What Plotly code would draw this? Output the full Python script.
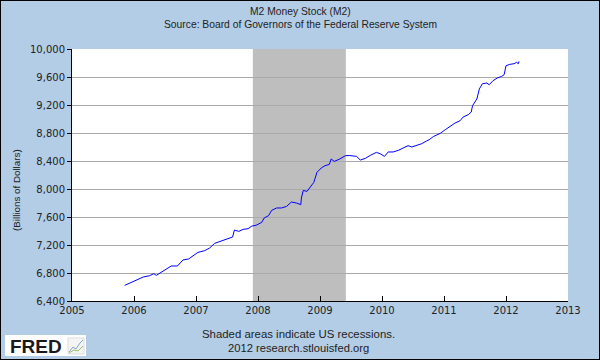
import plotly.graph_objects as go

# ---- data ----
years = [2005.85, 2005.96, 2006.06, 2006.15, 2006.25, 2006.32, 2006.36, 2006.44, 2006.52, 2006.60,
         2006.70, 2006.79, 2006.88, 2006.95, 2007.03, 2007.14, 2007.22, 2007.30, 2007.41, 2007.52,
         2007.59, 2007.62, 2007.69, 2007.76, 2007.84, 2007.90, 2007.97, 2008.06, 2008.10, 2008.17,
         2008.22, 2008.30, 2008.38, 2008.46, 2008.54, 2008.62, 2008.69, 2008.70, 2008.73, 2008.79,
         2008.84, 2008.90, 2008.95, 2009.02, 2009.08, 2009.15, 2009.18, 2009.23, 2009.32, 2009.41,
         2009.48, 2009.55, 2009.59, 2009.65, 2009.73, 2009.81, 2009.91, 2009.97, 2010.04, 2010.10,
         2010.18, 2010.26, 2010.34, 2010.42, 2010.48, 2010.56, 2010.64, 2010.72, 2010.76, 2010.83,
         2010.94, 2011.02, 2011.10, 2011.18, 2011.26, 2011.31, 2011.39, 2011.44, 2011.46, 2011.49,
         2011.53, 2011.57, 2011.62, 2011.69, 2011.73, 2011.79, 2011.86, 2011.93, 2011.97, 2012.00,
         2012.06, 2012.13, 2012.17, 2012.20, 2012.21]
m2 = [6623, 6666, 6704, 6743, 6761, 6790, 6766, 6809, 6861, 6900,
      6900, 6986, 7000, 7047, 7094, 7119, 7157, 7223, 7261, 7290,
      7314, 7414, 7394, 7423, 7433, 7470, 7482, 7523, 7586, 7619,
      7694, 7729, 7729, 7751, 7814, 7800, 7776, 7871, 7980, 7966,
      8023, 8094, 8237, 8300, 8333, 8351, 8429, 8394, 8429, 8476,
      8478, 8470, 8466, 8414, 8437, 8480, 8523, 8504, 8466, 8529,
      8529, 8551, 8586, 8619, 8600, 8623, 8647, 8686, 8704, 8750,
      8795, 8847, 8894, 8943, 8976, 9029, 9061, 9100, 9190, 9229,
      9286, 9429, 9504, 9514, 9490, 9547, 9586, 9609, 9633, 9761,
      9780, 9790, 9809, 9790, 9823]
recession_start = [2007.917]
recession_end = [2009.417]
x_ticks = [2005, 2006, 2007, 2008, 2009, 2010, 2011, 2012, 2013]
y_ticks = [6400, 6800, 7200, 7600, 8000, 8400, 8800, 9200, 9600, 10000]

W, H = 600, 360
L, R, T, B = 72, 32, 49, 59
PW, PH = W - L - R, H - T - B


def px(x):
    return (x - L) / PW


def py(y):
    return (H - B - y) / PH


BG = "#B3CDE6"
TXT = "#222222"
FONT = "DejaVu Sans"
SANS = "Liberation Sans"

fig = go.Figure()
fig.add_trace(go.Scatter(x=years, y=m2, mode="lines",
                         line=dict(color="#0000FF", width=1), hoverinfo="skip"))

shapes = []
for s, e in zip(recession_start, recession_end):
    shapes.append(dict(type="rect", xref="x", yref="paper", x0=s, x1=e, y0=0, y1=1,
                       fillcolor="#BEBEBE", line=dict(width=0), layer="below"))
# outer border
shapes.append(dict(type="rect", xref="paper", yref="paper",
                   x0=px(0), x1=px(W), y0=py(H), y1=py(0),
                   line=dict(color="black", width=2), fillcolor="rgba(0,0,0,0)"))
# FRED logo box
shapes.append(dict(type="rect", xref="paper", yref="paper",
                   x0=px(5), x1=px(86), y0=py(356), y1=py(335),
                   line=dict(width=0), fillcolor="white"))
shapes.append(dict(type="rect", xref="paper", yref="paper",
                   x0=px(68), x1=px(84), y0=py(354), y1=py(338),
                   line=dict(color="#DDDDDD", width=1), fillcolor="#F4F4F4"))
shapes.append(dict(type="path", xref="paper", yref="paper",
                   path="M {} {} L {} {} L {} {} L {} {} L {} {}".format(
                       px(69), py(352), px(73), py(347), px(76), py(349), px(80), py(343), px(83), py(340)),
                   line=dict(color="#7FA7D0", width=1)))
shapes.append(dict(type="path", xref="paper", yref="paper",
                   path="M {} {} L {} {} L {} {} L {} {}".format(
                       px(69), py(353), px(74), py(350), px(78), py(351), px(83), py(346)),
                   line=dict(color="#9DBF6A", width=1)))

ann = [
    dict(text="M2 Money Stock (M2)", x=px(300), y=py(11), size=10.3),
    dict(text="Source: Board of Governors of the Federal Reserve System", x=px(300), y=py(25), size=10.3),
    dict(text="Shaded areas indicate US recessions.", x=px(298), y=py(334), size=11.4),
    dict(text="2012 research.stlouisfed.org", x=px(298), y=py(348), size=11.2),
]
annotations = []
for a in ann:
    annotations.append(dict(text=a["text"], x=a["x"], y=a["y"], xref="paper", yref="paper",
                            xanchor="center", yanchor="middle", showarrow=False,
                            font=dict(family=SANS, size=a["size"], color=TXT)))
annotations.append(dict(text="(Billions of Dollars)", x=px(16), y=py(190), xref="paper", yref="paper",
                        xanchor="center", yanchor="middle", showarrow=False, textangle=-90,
                        font=dict(family=SANS, size=9.8, color=TXT)))
annotations.append(dict(text="<b>FRED</b>", x=px(8), y=py(346), xref="paper", yref="paper",
                        xanchor="left", yanchor="middle", showarrow=False,
                        font=dict(family=SANS, size=19, color="#1A1A1A")))

fig.update_layout(
    width=W, height=H,
    margin=dict(l=L, r=R, t=T, b=B, pad=0),
    paper_bgcolor=BG, plot_bgcolor="white",
    showlegend=False,
    font=dict(family=FONT, size=10, color=TXT),
    shapes=shapes, annotations=annotations,
    xaxis=dict(range=[2005, 2013], tickmode="array", tickvals=x_ticks,
               ticktext=[str(t) for t in x_ticks],
               showgrid=False, zeroline=False, showline=True, linecolor="black", linewidth=1,
               ticks="inside", ticklen=5, tickcolor="black", tickfont=dict(family=FONT, size=10, color=TXT)),
    yaxis=dict(range=[6400, 10000], tickmode="array", tickvals=y_ticks,
               ticktext=[f"{t:,}" for t in y_ticks],
               showgrid=True, gridcolor="#AAAAAA", gridwidth=1, zeroline=False,
               showline=True, linecolor="black", linewidth=1,
               ticks="outside", ticklen=4, tickcolor="black", tickfont=dict(family=FONT, size=10, color=TXT)),
)

fig.write_html("out.html", config={"displayModeBar": False},
               post_script="document.body.style.margin='0px';document.body.style.overflow='hidden';")
